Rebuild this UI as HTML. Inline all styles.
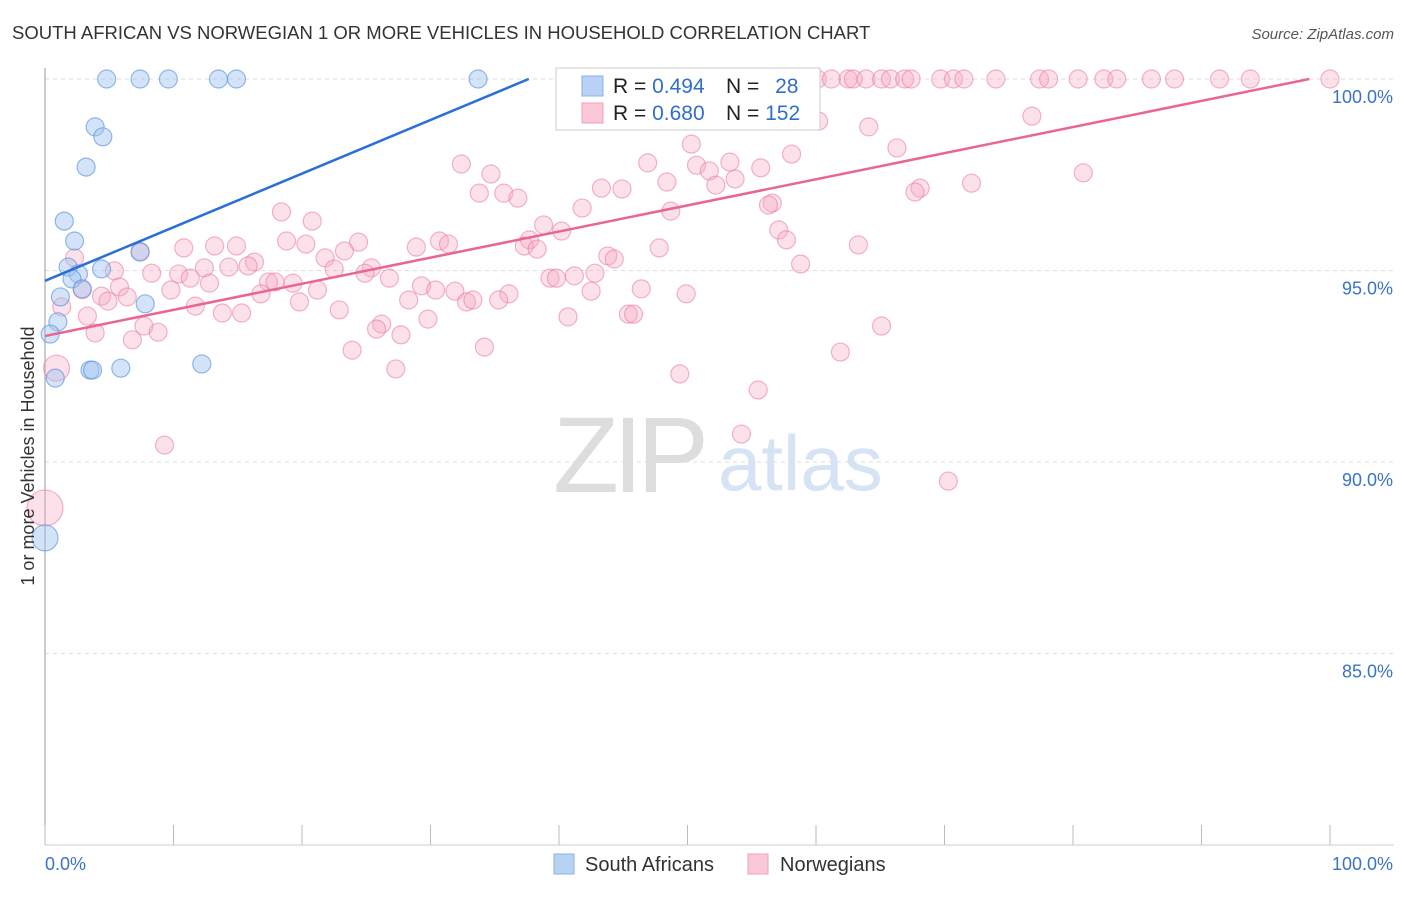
<!DOCTYPE html>
<html><head><meta charset="utf-8"><style>
body{margin:0;background:#fff;font-family:"Liberation Sans",sans-serif;}
svg text{font-family:"Liberation Sans",sans-serif;}
</style></head><body>
<svg id="chart" width="1406" height="892" xmlns="http://www.w3.org/2000/svg">
<text x="12" y="39" font-size="18.5" fill="#333">SOUTH AFRICAN VS NORWEGIAN 1 OR MORE VEHICLES IN HOUSEHOLD CORRELATION CHART</text>
<text x="1394" y="39" font-size="15" fill="#555" text-anchor="end" font-style="italic">Source: ZipAtlas.com</text>
<g>
<text x="553" y="492" font-size="108" fill="#ddd" font-family="Liberation Serif" letter-spacing="-6">ZIP</text>
<text x="718" y="490" font-size="78" fill="#d6e3f5">atlas</text>
</g>
<g id="grid"></g>
<g id="axes"></g>
<g id="marks"></g>
<g>
<rect x="556" y="68" width="264" height="62" fill="#fff" stroke="#ccc"/>
<rect x="582" y="76" width="21" height="20" fill="#b8d2f5" stroke="#8ab0e6"/>
<rect x="582" y="103" width="21" height="20" fill="#fbc8d7" stroke="#f0a0ba"/>
<text x="613" y="93" font-size="21" fill="#222">R = <tspan fill="#2f6fd0">0.494</tspan></text>
<text x="726" y="93" font-size="21" fill="#222">N = <tspan fill="#2f6fd0" dx="10">28</tspan></text>
<text x="613" y="120" font-size="21" fill="#222">R = <tspan fill="#2f6fd0">0.680</tspan></text>
<text x="726" y="120" font-size="21" fill="#222">N = <tspan fill="#2f6fd0">152</tspan></text>
</g>
<text transform="translate(34,456) rotate(-90)" font-size="18" fill="#333" text-anchor="middle">1 or more Vehicles in Household</text>
<g>
<rect x="554" y="854" width="20" height="20" fill="#b8d2f5" stroke="#8ab0e6"/>
<text x="585" y="871" font-size="20" fill="#333">South Africans</text>
<rect x="748" y="854" width="20" height="20" fill="#fbc8d7" stroke="#f0a0ba"/>
<text x="780" y="871" font-size="20" fill="#333">Norwegians</text>
</g>
</svg>
<script>
const yTicks=[100,95,90,85];
const yTickLabels=["100.0%","95.0%","90.0%","85.0%"];
const xTickVals=[0,10,20,30,40,50,60,70,80,90,100];
const blueX=[4.8,7.4,9.6,13.5,14.9,33.7,54.6,3.9,4.5,3.2,1.5,2.3,7.4,1.8,4.4,2.6,2.1,2.9,1.2,7.8,1.0,0.4,0.8,3.5,3.7,5.9,12.2,0];
const blueY=[100,100,100,100,100,100,100,98.75,98.49,97.7,96.29,95.77,95.48,95.09,95.04,94.91,94.78,94.52,94.31,94.13,93.66,93.34,92.19,92.4,92.4,92.45,92.56,88.02];
const blueR=[9,9,9,9,9,9,9,9,9,9,9,9,9,9,9,9,9,9,9,9,9,9,9,9,9,9,9,13];
const pinkX=[60.1,61.2,62.5,62.9,63.9,65.1,65.8,66.9,67.4,69.7,70.7,71.5,74.0,77.4,78.1,80.4,82.4,83.4,86.1,87.9,91.4,93.8,100,
47.3,60.2,64.1,76.8,50.3,66.3,58.1,32.4,46.9,50.7,53.3,55.7,51.7,34.7,53.7,48.4,52.2,80.8,72.1,43.3,44.9,68.1,67.7,33.8,35.7,36.8,56.6,56.3,41.8,48.7,18.4,20.8,38.8,40.2,57.1,57.7,37.7,18.8,20.3,24.4,30.7,31.4,37.3,38.3,28.9,13.2,14.9,10.8,23.3,47.8,63.3,43.8,44.3,2.3,21.8,16.3,15.8,14.3,12.4,25.4,22.5,24.9,58.8,5.4,8.3,10.4,11.3,41.2,39.3,39.8,42.8,17.4,17.9,19.3,26.8,29.3,30.4,31.9,36.1,46.4,42.5,49.9,12.8,5.8,9.8,21.2,16.8,4.4,6.4,4.9,28.3,32.8,33.3,35.3,19.8,11.7,1.3,22.9,13.8,15.3,3.3,29.8,40.7,45.4,45.8,65.1,26.2,25.8,7.7,8.8,3.9,27.7,6.8,23.9,34.2,61.9,0.9,27.3,49.4,55.5,54.2,9.3,70.3,0,7.4,2.9];
const pinkY=[100,100,100,100,100,100,100,100,100,100,100,100,100,100,100,100,100,100,100,100,100,100,100,
99.14,98.9,98.75,99.03,98.3,98.2,98.04,97.78,97.81,97.75,97.83,97.68,97.6,97.52,97.39,97.31,97.23,97.55,97.28,97.15,97.13,97.15,97.05,97.02,97.02,96.89,96.76,96.71,96.63,96.55,96.53,96.29,96.19,96.03,96.06,95.8,95.8,95.77,95.69,95.74,95.77,95.69,95.64,95.56,95.61,95.64,95.64,95.59,95.51,95.59,95.67,95.38,95.3,95.33,95.33,95.22,95.12,95.09,95.07,95.07,95.04,94.93,95.17,94.99,94.93,94.91,94.8,94.86,94.8,94.8,94.93,94.7,94.7,94.67,94.8,94.6,94.49,94.46,94.39,94.52,94.46,94.39,94.67,94.57,94.49,94.49,94.39,94.33,94.31,94.2,94.23,94.18,94.23,94.23,94.18,94.07,94.05,93.97,93.89,93.89,93.81,93.73,93.79,93.86,93.86,93.55,93.6,93.47,93.55,93.39,93.37,93.32,93.19,92.92,93.0,92.87,92.45,92.43,92.3,91.88,90.73,90.44,89.5,88.8,95.5,94.5];
const blueLine=[94.73,0.140]; // intercept, slope
const pinkLine=[93.29,0.0682];
const NS='http://www.w3.org/2000/svg';
const X0=45,X1=1330,Y100=79,PXPER=38.3;
const sx=v=>X0+(X1-X0)*v/100;
const sy=v=>Y100+(100-v)*PXPER;
function mk(tag,attrs,parent){const e=document.createElementNS(NS,tag);for(const k in attrs)e.setAttribute(k,attrs[k]);parent.appendChild(e);return e;}
const grid=document.getElementById('grid'),axes=document.getElementById('axes'),marks=document.getElementById('marks');
yTicks.forEach((t,i)=>{
 const l=mk('line',{x1:45,x2:1394,y1:sy(t),y2:sy(t),stroke:'#ddd','stroke-dasharray':'4,4'},grid);
 
 
 const tx=mk('text',{x:1393,y:sy(t)+24,'font-size':18,fill:'#3b73c8','text-anchor':'end'},axes);
 tx.textContent=yTickLabels[i];
 
 
});
const ya=mk('line',{x1:45,x2:45,y1:68,y2:845,stroke:'#999'},axes);


const xa=mk('line',{x1:45,x2:1394,y1:845,y2:845,stroke:'#ccc'},axes);


xTickVals.forEach(v=>{
 const t=mk('line',{x1:sx(v),x2:sx(v),y1:825,y2:845,stroke:'#bbb'},axes);
 
 
});
const xl0=mk('text',{x:45,y:870,'font-size':18,fill:'#3b73c8'},axes);xl0.textContent='0.0%';


const xl1=mk('text',{x:1393,y:870,'font-size':18,fill:'#3b73c8','text-anchor':'end'},axes);xl1.textContent='100.0%';


pinkX.forEach((x,i)=>{
 const r=(x===0)?18:(x<1&&pinkY[i]<93?13:9);
 const c=mk('circle',{cx:sx(x),cy:sy(pinkY[i]),r:r,fill:'rgba(246,170,196,0.35)',stroke:'rgba(232,120,158,0.55)','stroke-width':1.2},marks);
 
 
});
blueX.forEach((x,i)=>{
 const c=mk('circle',{cx:sx(x),cy:sy(blueY[i]),r:blueR[i],fill:'rgba(160,196,240,0.45)',stroke:'rgba(80,140,220,0.6)','stroke-width':1.2},marks);
 
 
});
function regLine(p,color,name){
 const xEnd=Math.min(100,(100-p[0])/p[1]);
 const l=mk('line',{x1:sx(0),y1:sy(p[0]),x2:sx(xEnd),y2:sy(p[0]+p[1]*xEnd),stroke:color,'stroke-width':2.5},marks);
 
 
}
regLine(blueLine,'#2a6fd6','south-african-trendline');
regLine(pinkLine,'#e8668f','norwegian-trendline');
</script>
</body></html>
